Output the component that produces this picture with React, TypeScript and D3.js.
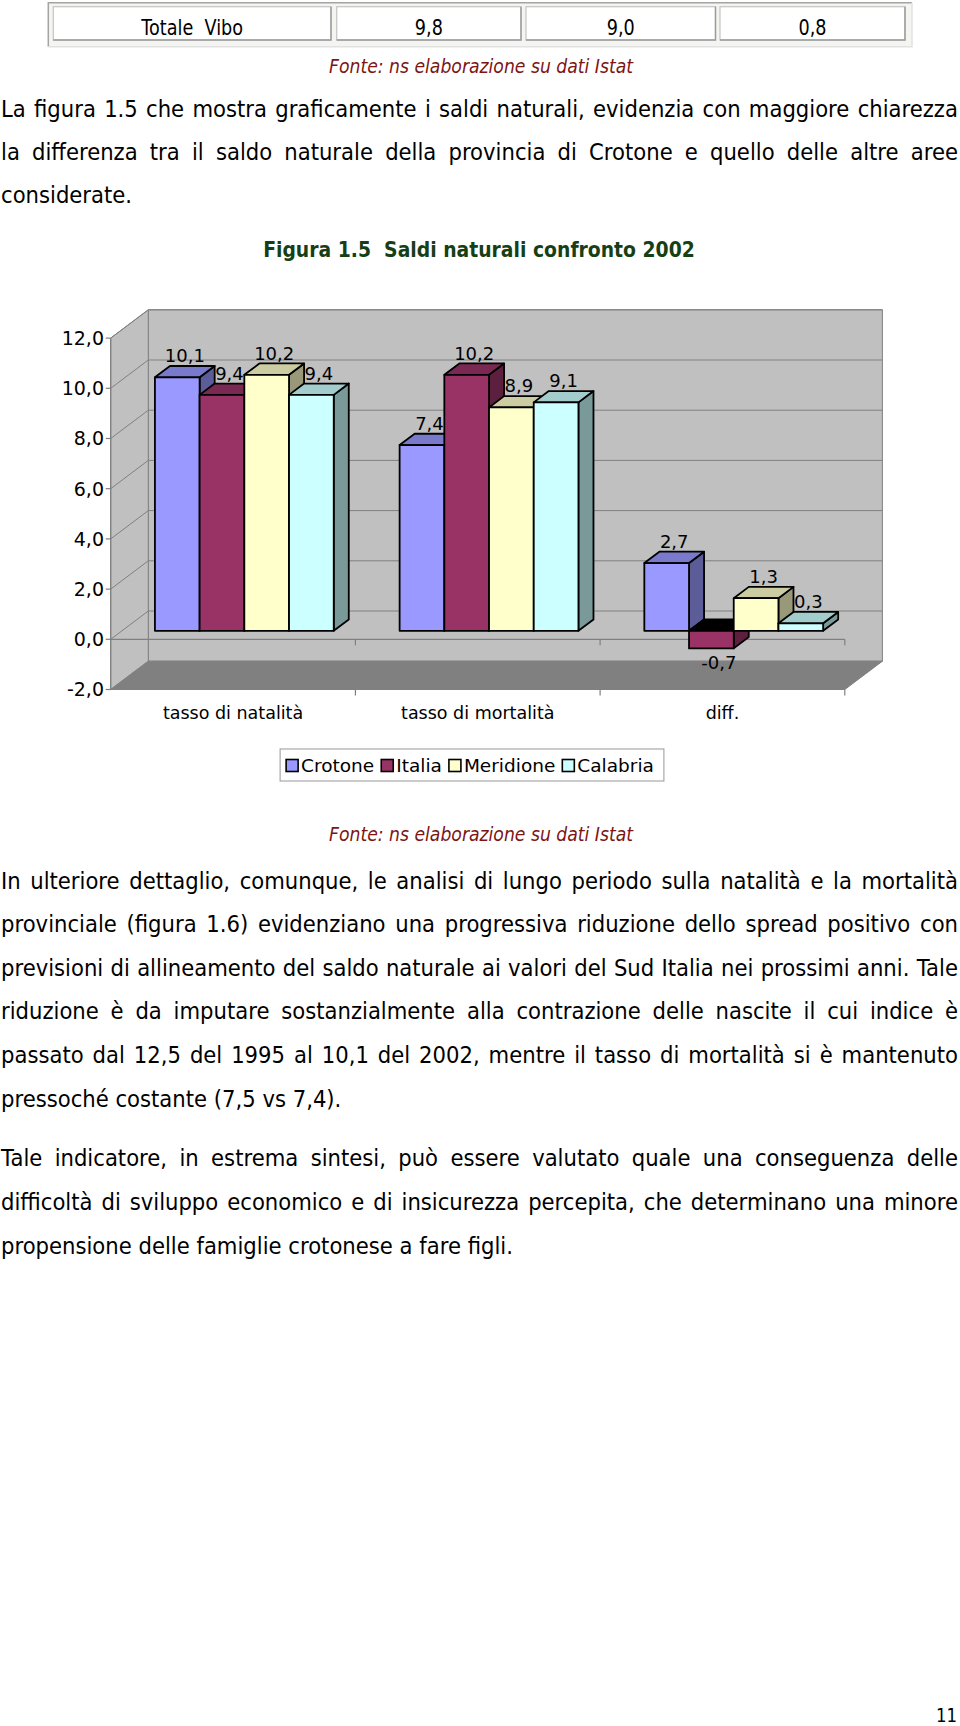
import React, { useEffect, useRef } from "react";
import * as d3 from "d3";

// ---------- data ----------
const categories = ["tasso di natalità", "tasso di mortalità", "diff."];
const seriesNames = ["Crotone", "Italia", "Meridione", "Calabria"];
const crotone = [10.1, 7.4, 2.7];
const italia = [9.4, 10.2, -0.7];
const meridione = [10.2, 8.9, 1.3];
const calabria = [9.4, 9.1, 0.3];
const seriesColors = ["#9999ff", "#993366", "#ffffcc", "#ccffff"];
const yTicks = [-2, 0, 2, 4, 6, 8, 10, 12];

const tableRow = ["Totale  Vibo", "9,8", "9,0", "0,8"];
const sourceNote = "Fonte: ns elaborazione su dati Istat";
const figureTitle = "Figura 1.5  Saldi naturali confronto 2002";
const para1 = [
  "La figura 1.5 che mostra graficamente i saldi naturali, evidenzia con maggiore chiarezza",
  "la differenza tra il saldo naturale della provincia di Crotone e quello delle altre aree",
  "considerate.",
];
const para2 = [
  "In ulteriore dettaglio, comunque, le analisi di lungo periodo sulla natalità e la mortalità",
  "provinciale (figura 1.6) evidenziano una progressiva riduzione dello spread positivo con",
  "previsioni di allineamento del saldo naturale ai valori del Sud Italia nei prossimi anni. Tale",
  "riduzione è da imputare sostanzialmente alla contrazione delle nascite il cui indice è",
  "passato dal 12,5 del 1995 al 10,1 del 2002, mentre il tasso di mortalità si è mantenuto",
  "pressoché costante (7,5 vs 7,4).",
];
const para3 = [
  "Tale indicatore, in estrema sintesi, può essere valutato quale una conseguenza delle",
  "difficoltà di sviluppo economico e di insicurezza percepita, che determinano una minore",
  "propensione delle famiglie crotonese a fare figli.",
];
const pageNumber = "11";

const FONT = "'DejaVu Sans', Verdana, sans-serif";
const fmt = (v: number) => d3.format(".1f")(v).replace(".", ",").replace("\u2212", "-");

export default function App() {
  const ref = useRef<SVGSVGElement>(null);

  useEffect(() => {
    document.body.style.margin = "0";
    const svg = d3.select(ref.current);
    svg.selectAll("*").remove();

    // ---------- table row ----------
    const tg = svg.append("g");
    tg.append("rect").attr("x", 48.3).attr("y", 2.7).attr("width", 863.7).attr("height", 44).attr("fill", "#f4f4f0");
    tg.append("path").attr("d", "M48.3,46.7V2.7H912").attr("stroke", "#a4a4a4").attr("stroke-width", 1.5).attr("fill", "none");
    tg.append("path").attr("d", "M912,2.7V46.7H48.3").attr("stroke", "#e2e2e2").attr("stroke-width", 1.5).attr("fill", "none");
    const colEdges = [[53.3, 331], [336.7, 521], [526, 715.5], [720, 905]];
    tableRow.forEach((t, i) => {
      const [a, b] = colEdges[i];
      tg.append("rect").attr("x", a).attr("y", 6.7).attr("width", b - a).attr("height", 33.3)
        .attr("fill", "#fff").attr("stroke", "#c4c4c4").attr("stroke-width", 1.2);
      tg.append("path").attr("d", `M${a},40H${b}V6.7`).attr("stroke", "#9a9a9a").attr("stroke-width", 1.4).attr("fill", "none");
      tg.append("text")
        .attr("transform", `translate(${(a + b) / 2},35) scale(0.86,1)`)
        .attr("text-anchor", "middle").attr("font-family", FONT).attr("font-size", 20.5)
        .style("white-space", "pre").attr("fill", "#000").text(t);
    });

    // ---------- source notes / title ----------
    [73.3, 841].forEach((yy) => {
      svg.append("text").attr("x", 481).attr("y", yy).attr("text-anchor", "middle")
        .attr("font-family", FONT).attr("font-size", 20).attr("font-style", "italic")
        .attr("fill", "#7d1515").attr("textLength", 304).attr("lengthAdjust", "spacingAndGlyphs")
        .text(sourceNote);
    });
    svg.append("text").attr("x", 479).attr("y", 256.7).attr("text-anchor", "middle")
      .attr("font-family", FONT).attr("font-size", 21).attr("font-weight", "bold")
      .attr("fill", "#163f16").style("white-space", "pre")
      .attr("textLength", 431.7).attr("lengthAdjust", "spacingAndGlyphs").text(figureTitle);

    // ---------- body paragraphs (justified) ----------
    const BODY_SIZE = 23;
    const meas = svg.append("text").attr("font-family", FONT).attr("font-size", BODY_SIZE)
      .style("white-space", "pre").attr("x", -2000).attr("y", -2000);
    const mw = (s: string) => { meas.text(s); return (meas.node() as SVGTextElement).getComputedTextLength(); };
    const spaceW = mw("a a") - mw("aa");
    const paragraphs = [
      { lines: para1, y0: 116.7, lh: 43.3 },
      { lines: para2, y0: 888.5, lh: 43.6 },
      { lines: para3, y0: 1165.8, lh: 44.05 },
    ];
    const LEFT = 1, RIGHT = 958, target = RIGHT - LEFT;
    let sc = 1;
    paragraphs.forEach((p) => p.lines.forEach((ln, i) => {
      if (i === p.lines.length - 1) return;
      const words = ln.split(" ");
      const sum = d3.sum(words, mw);
      sc = Math.min(sc, (target - spaceW * (words.length - 1)) / sum);
    }));
    paragraphs.forEach((p) => p.lines.forEach((ln, i) => {
      const words = ln.split(" ");
      const widths = words.map(mw);
      const sum = d3.sum(widths);
      const last = i === p.lines.length - 1;
      const gap = last ? spaceW : (target / sc - sum) / (words.length - 1);
      const g = svg.append("g").attr("transform", `translate(${LEFT},${p.y0 + i * p.lh}) scale(${sc},1)`);
      let cx = 0;
      words.forEach((w, k) => {
        g.append("text").attr("x", cx).attr("y", 0).attr("font-family", FONT)
          .attr("font-size", BODY_SIZE).attr("fill", "#000").text(w);
        cx += widths[k] + gap;
      });
    }));
    meas.remove();

    // ---------- 3D column chart ----------
    const X0 = 110.7, X1 = 844.8, DX = 37.6, DY = 28.3;
    const x = d3.scaleBand<string>().domain(categories).range([X0, X1]);
    const xs = d3.scaleBand<string>().domain(seriesNames).range([0, x.bandwidth()])
      .paddingInner(0).paddingOuter(0.737);
    const y = d3.scaleLinear().domain([-2, 12]).range([689.5, 338.1]);
    const P = (px: number, v: number, d: number): [number, number] => [px + d * DX, y(v) - d * DY];
    const poly = (pts: [number, number][]) => "M" + pts.map((p) => p.join(",")).join("L") + "Z";
    const [vMin, vMax] = [yTicks[0], yTicks[yTicks.length - 1]];
    const cg = svg.append("g");
    const GRID = "#808080";

    // walls and floor
    cg.append("path").attr("d", poly([P(X0, vMax, 1), P(X1, vMax, 1), P(X1, vMin, 1), P(X0, vMin, 1)]))
      .attr("fill", "#c0c0c0").attr("stroke", GRID).attr("stroke-width", 1);
    cg.append("path").attr("d", poly([P(X0, vMax, 0), P(X0, vMax, 1), P(X0, vMin, 1), P(X0, vMin, 0)]))
      .attr("fill", "#c0c0c0").attr("stroke", GRID).attr("stroke-width", 1);
    cg.append("path").attr("d", poly([P(X0, vMin, 0), P(X1, vMin, 0), P(X1, vMin, 1), P(X0, vMin, 1)]))
      .attr("fill", "#808080").attr("stroke", GRID).attr("stroke-width", 1);

    // gridlines
    yTicks.forEach((v) => {
      if (v === vMin) return;
      const a = P(X0, v, 0), b = P(X0, v, 1), c = P(X1, v, 1);
      cg.append("path").attr("d", `M${a}L${b}L${c}`).attr("fill", "none").attr("stroke", GRID).attr("stroke-width", 1);
    });

    // value axis (front)
    cg.append("line").attr("x1", X0).attr("x2", X0).attr("y1", y(vMax)).attr("y2", y(vMin))
      .attr("stroke", GRID).attr("stroke-width", 1.2);
    yTicks.forEach((v) => {
      cg.append("line").attr("x1", X0 - 5).attr("x2", X0).attr("y1", y(v)).attr("y2", y(v))
        .attr("stroke", GRID).attr("stroke-width", 1.2);
      cg.append("text").attr("x", 104).attr("y", y(v) + 6.8).attr("text-anchor", "end")
        .attr("font-family", FONT).attr("font-size", 19).attr("fill", "#000").text(fmt(v));
    });

    // category axis at zero and bottom front edge
    [0, vMin].forEach((v) => {
      cg.append("line").attr("x1", X0).attr("x2", X1).attr("y1", y(v)).attr("y2", y(v))
        .attr("stroke", GRID).attr("stroke-width", 1.2);
      categories.forEach((c) => {
        const xe = (x(c) as number) + x.bandwidth();
        cg.append("line").attr("x1", xe).attr("x2", xe).attr("y1", y(v)).attr("y2", y(v) + 6)
          .attr("stroke", GRID).attr("stroke-width", 1.2);
      });
    });

    // bars
    const values = [crotone, italia, meridione, calabria];
    const D0 = 0.3, D1 = 0.7;
    const shade = (c: string, k: number) => {
      const r = d3.rgb(c);
      return d3.rgb(r.r * k, r.g * k, r.b * k).formatHex();
    };
    categories.forEach((cat, ci) => {
      seriesNames.forEach((ser, si) => {
        const v = values[si][ci];
        const xl = (x(cat) as number) + (xs(ser) as number);
        const w = xs.bandwidth();
        const top = Math.max(v, 0), bot = Math.min(v, 0);
        const col = seriesColors[si];
        const bg = cg.append("g").attr("stroke", "#000").attr("stroke-width", 1.8).attr("stroke-linejoin", "round");
        bg.append("path").attr("d", poly([P(xl + w, top, D0), P(xl + w, top, D1), P(xl + w, bot, D1), P(xl + w, bot, D0)]))
          .attr("fill", shade(col, 0.6));
        bg.append("path").attr("d", poly([P(xl, top, D0), P(xl, top, D1), P(xl + w, top, D1), P(xl + w, top, D0)]))
          .attr("fill", v >= 0 ? shade(col, 0.8) : "#000");
        bg.append("path").attr("d", poly([P(xl, top, D0), P(xl + w, top, D0), P(xl + w, bot, D0), P(xl, bot, D0)]))
          .attr("fill", col);
      });
    });
    // data labels
    categories.forEach((cat, ci) => {
      seriesNames.forEach((ser, si) => {
        const v = values[si][ci];
        const xl = (x(cat) as number) + (xs(ser) as number);
        const cx = xl + xs.bandwidth() / 2 + 0.5 * DX;
        const by = v >= 0 ? y(v) - D0 * DY - 15 : y(v) - D0 * DY + 21;
        cg.append("text").attr("x", cx).attr("y", by).attr("text-anchor", "middle")
          .attr("font-family", FONT).attr("font-size", 18).attr("fill", "#000").text(fmt(v));
      });
    });

    // category labels
    categories.forEach((c) => {
      cg.append("text").attr("x", (x(c) as number) + x.bandwidth() / 2).attr("y", 719)
        .attr("text-anchor", "middle").attr("font-family", FONT).attr("font-size", 17.5)
        .attr("fill", "#000").text(c);
    });

    // legend
    const LG = 18.5;
    const lm = svg.append("text").attr("font-family", FONT).attr("font-size", LG).attr("x", -2000).attr("y", -2000);
    const tw = seriesNames.map((s) => { lm.text(s); return (lm.node() as SVGTextElement).getComputedTextLength(); });
    lm.remove();
    const SW = 12, SG = 3, IG = 7, PADL = 6, PADR = 10;
    const total = PADL + d3.sum(tw) + seriesNames.length * (SW + SG) + IG * (seriesNames.length - 1) + PADR;
    const lx0 = 472 - total / 2;
    const lgG = svg.append("g");
    lgG.append("rect").attr("x", lx0).attr("y", 749).attr("width", total).attr("height", 32)
      .attr("fill", "#fff").attr("stroke", "#a8a8a8").attr("stroke-width", 1.2);
    let lx = lx0 + PADL;
    seriesNames.forEach((s, i) => {
      lgG.append("rect").attr("x", lx).attr("y", 759.5).attr("width", SW).attr("height", SW)
        .attr("fill", seriesColors[i]).attr("stroke", "#000").attr("stroke-width", 1.6);
      lgG.append("text").attr("x", lx + SW + SG).attr("y", 771.5).attr("font-family", FONT)
        .attr("font-size", LG).attr("fill", "#000").text(s);
      lx += SW + SG + tw[i] + IG;
    });

    // page number
    svg.append("text").attr("transform", "translate(957,1721.7) scale(0.85,1)").attr("text-anchor", "end")
      .attr("font-family", FONT).attr("font-size", 19.5).attr("fill", "#000").text(pageNumber);
  }, []);

  return (
    <svg
      ref={ref}
      width={960}
      height={1726}
      style={{ position: "absolute", left: 0, top: 0, display: "block", background: "#fff" }}
    />
  );
}
